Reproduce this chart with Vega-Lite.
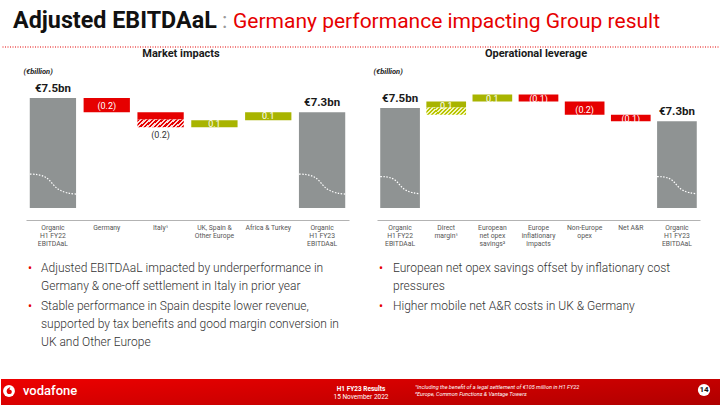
{
  "$schema": "https://vega.github.io/schema/vega-lite/v6.json",
  "padding": {"left": 0, "top": 9, "right": 0, "bottom": 0},
  "background": "white",
  "bounds": "flush",
  "columns": 2,
  "spacing": {"row": 15, "column": 0},
  "config": {
    "view": {"stroke": null},
    "font": "Roboto",
    "axisX": {"ticks": false, "domainColor": "#b3b3b3", "domainWidth": 1.2, "labelFontSize": 6.8, "labelColor": "#555", "labelLineHeight": 8, "labelPadding": 4, "labelAngle": 0, "labelBaseline": "top"},
    "axisY": {"labels": false, "ticks": false, "domain": false, "grid": false, "titleAngle": 0, "titleAlign": "left", "titleBaseline": "middle", "titleFontSize": 7.5, "titleFontStyle": "italic", "titleFontWeight": "bold", "titleColor": "#222", "titlePadding": 0}
  },
  "concat": [
    {
      "width": 360,
      "height": 20,
      "data": {"values": [
        {"id": "a", "text": "Adjusted EBITDAaL"},
        {"id": "b", "text": ":"},
        {"id": "c", "text": "Germany performance impacting Group result"}
      ]},
      "layer": [
        {"transform": [{"filter": "datum.id === 'a'"}], "mark": {"type": "rule", "color": "#e60000", "strokeDash": [1, 1.5], "strokeWidth": 1}, "encoding": {"y": {"datum": 0, "type": "quantitative", "scale": {"domain": [0, 1]}, "axis": null}}},
        {"transform": [{"filter": "datum.id === 'a'"}], "mark": {"type": "text", "align": "left", "baseline": "alphabetic", "dx": -168, "dy": -9, "fontSize": 23.3, "fontWeight": "bold", "color": "#111"}, "encoding": {"text": {"field": "text"}}},
        {"transform": [{"filter": "datum.id === 'b'"}], "mark": {"type": "text", "align": "left", "baseline": "alphabetic", "dx": 41, "dy": -9, "fontSize": 22, "color": "#9a9a9a"}, "encoding": {"text": {"field": "text"}}},
        {"transform": [{"filter": "datum.id === 'c'"}], "mark": {"type": "text", "align": "left", "baseline": "alphabetic", "dx": 52, "dy": -9, "fontSize": 21, "color": "#e60000"}, "encoding": {"text": {"field": "text"}}}
      ]
    },
    {
      "width": 360,
      "height": 20,
      "data": {"values": [{"id": "line"}]},
      "mark": {"type": "rule", "color": "#e60000", "strokeDash": [1, 1.5], "strokeWidth": 1},
      "encoding": {"y": {"datum": 0, "type": "quantitative", "scale": {"domain": [0, 1]}, "axis": null}}
    },
    {
      "width": 360,
      "height": 158,
      "title": {"text": "Market impacts", "frame": "group", "anchor": "middle", "orient": "top", "offset": 3, "fontSize": 11, "fontWeight": "bold", "color": "#1a1a1a"},
      "data": {"values": [
        {"cat": "Organic\nH1 FY22\nEBITDAaL", "kind": "total", "hi": 7.5, "label": "€7.5bn"},
        {"cat": "Germany", "kind": "neg", "lo": 7.3, "hi": 7.5, "label": "(0.2)"},
        {"cat": "Italy¹", "kind": "neg", "lo": 7.2, "hi": 7.3, "label": ""},
        {"cat": "Italy¹", "kind": "hatchneg", "lo": 7.09, "hi": 7.2, "label": "(0.2)"},
        {"cat": "UK, Spain &\nOther Europe", "kind": "pos", "lo": 7.09, "hi": 7.19, "label": "0.1"},
        {"cat": "Africa & Turkey", "kind": "pos", "lo": 7.19, "hi": 7.3, "label": "0.1"},
        {"cat": "Organic\nH1 FY23\nEBITDAaL", "kind": "total", "hi": 7.3, "label": "€7.3bn"}
      ]},
      "encoding": {
        "x": {"field": "cat", "type": "nominal", "title": null,
          "scale": {"domain": ["Organic\nH1 FY22\nEBITDAaL", "Germany", "Italy¹", "UK, Spain &\nOther Europe", "Africa & Turkey", "Organic\nH1 FY23\nEBITDAaL"], "range": [25, 348], "paddingInner": 0.14, "paddingOuter": 0.07},
          "axis": {"labelExpr": "split(datum.label, '\\n')"}}
      },
      "layer": [
        {"transform": [{"filter": "datum.kind === 'total'"}], "mark": {"type": "bar", "color": "#8f9393"},
          "encoding": {"y": {"field": "hi", "type": "quantitative", "title": "(€billion)", "scale": {"domain": [5.966, 7.941]}, "axis": {"titleX": 22, "titleY": 9}}, "y2": {"datum": 5.966}}},
        {"transform": [{"filter": "datum.kind === 'neg' || datum.kind === 'pos'"}], "mark": {"type": "bar"},
          "encoding": {"y": {"field": "hi", "type": "quantitative", "title": "(€billion)"}, "y2": {"field": "lo"},
            "color": {"field": "kind", "type": "nominal", "scale": {"domain": ["neg", "pos"], "range": ["#e60000", "#a8b400"]}, "legend": null}}},
        {"transform": [{"filter": "datum.kind === 'hatchneg'"}],
          "mark": {"type": "bar", "color": {"gradient": "linear", "x1": 0, "y1": 0, "x2": 1.2, "y2": 0.23, "stops": [
            {"offset": 0, "color": "#e60000"}, {"offset": 0.042, "color": "#e60000"}, {"offset": 0.042, "color": "#fcd9d9"}, {"offset": 0.083, "color": "#fcd9d9"},
            {"offset": 0.083, "color": "#e60000"}, {"offset": 0.125, "color": "#e60000"}, {"offset": 0.125, "color": "#fcd9d9"}, {"offset": 0.167, "color": "#fcd9d9"},
            {"offset": 0.167, "color": "#e60000"}, {"offset": 0.208, "color": "#e60000"}, {"offset": 0.208, "color": "#fcd9d9"}, {"offset": 0.25, "color": "#fcd9d9"},
            {"offset": 0.25, "color": "#e60000"}, {"offset": 0.292, "color": "#e60000"}, {"offset": 0.292, "color": "#fcd9d9"}, {"offset": 0.333, "color": "#fcd9d9"},
            {"offset": 0.333, "color": "#e60000"}, {"offset": 0.375, "color": "#e60000"}, {"offset": 0.375, "color": "#fcd9d9"}, {"offset": 0.417, "color": "#fcd9d9"},
            {"offset": 0.417, "color": "#e60000"}, {"offset": 0.458, "color": "#e60000"}, {"offset": 0.458, "color": "#fcd9d9"}, {"offset": 0.5, "color": "#fcd9d9"},
            {"offset": 0.5, "color": "#e60000"}, {"offset": 0.542, "color": "#e60000"}, {"offset": 0.542, "color": "#fcd9d9"}, {"offset": 0.583, "color": "#fcd9d9"},
            {"offset": 0.583, "color": "#e60000"}, {"offset": 0.625, "color": "#e60000"}, {"offset": 0.625, "color": "#fcd9d9"}, {"offset": 0.667, "color": "#fcd9d9"},
            {"offset": 0.667, "color": "#e60000"}, {"offset": 0.708, "color": "#e60000"}, {"offset": 0.708, "color": "#fcd9d9"}, {"offset": 0.75, "color": "#fcd9d9"},
            {"offset": 0.75, "color": "#e60000"}, {"offset": 0.792, "color": "#e60000"}, {"offset": 0.792, "color": "#fcd9d9"}, {"offset": 0.833, "color": "#fcd9d9"},
            {"offset": 0.833, "color": "#e60000"}, {"offset": 0.875, "color": "#e60000"}, {"offset": 0.875, "color": "#fcd9d9"}, {"offset": 0.917, "color": "#fcd9d9"},
            {"offset": 0.917, "color": "#e60000"}, {"offset": 0.958, "color": "#e60000"}, {"offset": 0.958, "color": "#fcd9d9"}, {"offset": 1, "color": "#fcd9d9"}
          ]}},
          "encoding": {"y": {"field": "hi", "type": "quantitative", "title": "(€billion)"}, "y2": {"field": "lo"}}},
        {"transform": [{"filter": "datum.kind === 'total'"}],
          "mark": {"type": "point", "shape": "M-1,-0.43 C-0.45,-0.43 -0.25,-0.3 -0.05,-0.05 C0.15,0.2 0.4,0.4 1,0.43", "filled": false, "stroke": "white", "strokeWidth": 1.2, "strokeDash": [1.5, 1.5], "size": 2140, "opacity": 1},
          "encoding": {"y": {"datum": 6.3, "type": "quantitative"}}},
        {"transform": [{"filter": "(datum.kind === 'neg' || datum.kind === 'pos') && datum.label === '(0.2)'"}],
          "mark": {"type": "text", "color": "white", "fontSize": 9, "baseline": "middle", "dy": 8},
          "encoding": {"y": {"field": "hi", "type": "quantitative", "title": "(€billion)"}, "text": {"field": "label"}}},
        {"transform": [{"filter": "(datum.kind === 'neg' || datum.kind === 'pos') && datum.label !== '' && datum.label !== '(0.2)'"}],
          "mark": {"type": "text", "color": "white", "fontSize": 9, "baseline": "middle", "dy": 4},
          "encoding": {"y": {"field": "hi", "type": "quantitative", "title": "(€billion)"}, "text": {"field": "label"}}},
        {"transform": [{"filter": "(datum.kind === 'hatchneg' || datum.kind === 'hatchpos') && datum.label !== ''"}],
          "mark": {"type": "text", "color": "#333", "fontSize": 9, "baseline": "middle", "dy": 8},
          "encoding": {"y": {"field": "lo", "type": "quantitative", "title": "(€billion)"}, "text": {"field": "label"}}},
        {"transform": [{"filter": "datum.kind === 'total'"}],
          "mark": {"type": "text", "color": "#1a1a1a", "fontSize": 11.5, "fontWeight": "bold", "baseline": "alphabetic", "dy": -6},
          "encoding": {"y": {"field": "hi", "type": "quantitative", "title": "(€billion)"}, "text": {"field": "label"}}}
      ]
    },
    {
      "width": 360,
      "height": 158,
      "title": {"text": "Operational leverage", "frame": "group", "anchor": "middle", "orient": "top", "offset": 3, "dx": -5, "fontSize": 11, "fontWeight": "bold", "color": "#1a1a1a"},
      "data": {"values": [
        {"cat": "Organic\nH1 FY22\nEBITDAaL", "kind": "total", "hi": 7.5, "label": "€7.5bn"},
        {"cat": "Direct\nmargin¹", "kind": "pos", "lo": 7.51, "hi": 7.6, "label": "0.1"},
        {"cat": "Direct\nmargin¹", "kind": "hatchpos", "lo": 7.4, "hi": 7.51, "label": ""},
        {"cat": "European\nnet opex\nsavings²", "kind": "pos", "lo": 7.6, "hi": 7.705, "label": "0.1"},
        {"cat": "Europe\ninflationary\nimpacts", "kind": "neg", "lo": 7.6, "hi": 7.705, "label": "(0.1)"},
        {"cat": "Non-Europe\nopex", "kind": "neg", "lo": 7.4, "hi": 7.6, "label": "(0.2)"},
        {"cat": "Net A&R", "kind": "neg", "lo": 7.3, "hi": 7.4, "label": "(0.1)"},
        {"cat": "Organic\nH1 FY23\nEBITDAaL", "kind": "total", "hi": 7.3, "label": "€7.3bn"}
      ]},
      "encoding": {
        "x": {"field": "cat", "type": "nominal", "title": null,
          "scale": {"domain": ["Organic\nH1 FY22\nEBITDAaL", "Direct\nmargin¹", "European\nnet opex\nsavings²", "Europe\ninflationary\nimpacts", "Non-Europe\nopex", "Net A&R", "Organic\nH1 FY23\nEBITDAaL"], "range": [16, 339], "paddingInner": 0.14, "paddingOuter": 0.07},
          "axis": {"labelExpr": "split(datum.label, '\\n')"}}
      },
      "layer": [
        {"transform": [{"filter": "datum.kind === 'total'"}], "mark": {"type": "bar", "color": "#8f9393"},
          "encoding": {"y": {"field": "hi", "type": "quantitative", "title": "(€billion)", "scale": {"domain": [5.984, 8.049]}, "axis": {"titleX": 12, "titleY": 9}}, "y2": {"datum": 5.984}}},
        {"transform": [{"filter": "datum.kind === 'neg' || datum.kind === 'pos'"}], "mark": {"type": "bar"},
          "encoding": {"y": {"field": "hi", "type": "quantitative", "title": "(€billion)"}, "y2": {"field": "lo"},
            "color": {"field": "kind", "type": "nominal", "scale": {"domain": ["neg", "pos"], "range": ["#e60000", "#a8b400"]}, "legend": null}}},
        {"transform": [{"filter": "datum.kind === 'hatchpos'"}],
          "mark": {"type": "bar", "color": {"gradient": "linear", "x1": 0, "y1": 0, "x2": 1.2, "y2": 0.23, "stops": [
            {"offset": 0, "color": "#b9c400"}, {"offset": 0.042, "color": "#b9c400"}, {"offset": 0.042, "color": "#f2f6c0"}, {"offset": 0.083, "color": "#f2f6c0"},
            {"offset": 0.083, "color": "#b9c400"}, {"offset": 0.125, "color": "#b9c400"}, {"offset": 0.125, "color": "#f2f6c0"}, {"offset": 0.167, "color": "#f2f6c0"},
            {"offset": 0.167, "color": "#b9c400"}, {"offset": 0.208, "color": "#b9c400"}, {"offset": 0.208, "color": "#f2f6c0"}, {"offset": 0.25, "color": "#f2f6c0"},
            {"offset": 0.25, "color": "#b9c400"}, {"offset": 0.292, "color": "#b9c400"}, {"offset": 0.292, "color": "#f2f6c0"}, {"offset": 0.333, "color": "#f2f6c0"},
            {"offset": 0.333, "color": "#b9c400"}, {"offset": 0.375, "color": "#b9c400"}, {"offset": 0.375, "color": "#f2f6c0"}, {"offset": 0.417, "color": "#f2f6c0"},
            {"offset": 0.417, "color": "#b9c400"}, {"offset": 0.458, "color": "#b9c400"}, {"offset": 0.458, "color": "#f2f6c0"}, {"offset": 0.5, "color": "#f2f6c0"},
            {"offset": 0.5, "color": "#b9c400"}, {"offset": 0.542, "color": "#b9c400"}, {"offset": 0.542, "color": "#f2f6c0"}, {"offset": 0.583, "color": "#f2f6c0"},
            {"offset": 0.583, "color": "#b9c400"}, {"offset": 0.625, "color": "#b9c400"}, {"offset": 0.625, "color": "#f2f6c0"}, {"offset": 0.667, "color": "#f2f6c0"},
            {"offset": 0.667, "color": "#b9c400"}, {"offset": 0.708, "color": "#b9c400"}, {"offset": 0.708, "color": "#f2f6c0"}, {"offset": 0.75, "color": "#f2f6c0"},
            {"offset": 0.75, "color": "#b9c400"}, {"offset": 0.792, "color": "#b9c400"}, {"offset": 0.792, "color": "#f2f6c0"}, {"offset": 0.833, "color": "#f2f6c0"},
            {"offset": 0.833, "color": "#b9c400"}, {"offset": 0.875, "color": "#b9c400"}, {"offset": 0.875, "color": "#f2f6c0"}, {"offset": 0.917, "color": "#f2f6c0"},
            {"offset": 0.917, "color": "#b9c400"}, {"offset": 0.958, "color": "#b9c400"}, {"offset": 0.958, "color": "#f2f6c0"}, {"offset": 1, "color": "#f2f6c0"}
          ]}},
          "encoding": {"y": {"field": "hi", "type": "quantitative", "title": "(€billion)"}, "y2": {"field": "lo"}}},
        {"transform": [{"filter": "datum.kind === 'total'"}],
          "mark": {"type": "point", "shape": "M-1,-0.43 C-0.45,-0.43 -0.25,-0.3 -0.05,-0.05 C0.15,0.2 0.4,0.4 1,0.43", "filled": false, "stroke": "white", "strokeWidth": 1.2, "strokeDash": [1.5, 1.5], "size": 1580, "opacity": 1},
          "encoding": {"y": {"datum": 6.33, "type": "quantitative"}}},
        {"transform": [{"filter": "(datum.kind === 'neg' || datum.kind === 'pos') && datum.label === '(0.2)'"}],
          "mark": {"type": "text", "color": "white", "fontSize": 9, "baseline": "middle", "dy": 8},
          "encoding": {"y": {"field": "hi", "type": "quantitative", "title": "(€billion)"}, "text": {"field": "label"}}},
        {"transform": [{"filter": "(datum.kind === 'neg' || datum.kind === 'pos') && datum.label !== '' && datum.label !== '(0.2)'"}],
          "mark": {"type": "text", "color": "white", "fontSize": 9, "baseline": "middle", "dy": 4},
          "encoding": {"y": {"field": "hi", "type": "quantitative", "title": "(€billion)"}, "text": {"field": "label"}}},
        {"transform": [{"filter": "(datum.kind === 'hatchneg' || datum.kind === 'hatchpos') && datum.label !== ''"}],
          "mark": {"type": "text", "color": "#333", "fontSize": 9, "baseline": "middle", "dy": 8},
          "encoding": {"y": {"field": "lo", "type": "quantitative", "title": "(€billion)"}, "text": {"field": "label"}}},
        {"transform": [{"filter": "datum.kind === 'total'"}],
          "mark": {"type": "text", "color": "#1a1a1a", "fontSize": 11.5, "fontWeight": "bold", "baseline": "alphabetic", "dy": -6},
          "encoding": {"y": {"field": "hi", "type": "quantitative", "title": "(€billion)"}, "text": {"field": "label"}}}
      ]
    },
    {
      "width": 360,
      "height": 129,
      "data": {"values": [
        {"n": 1, "text": "Adjusted EBITDAaL impacted by underperformance in\nGermany & one-off settlement in Italy in prior year"},
        {"n": 2, "text": "Stable performance in Spain despite lower revenue,\nsupported by tax benefits and good margin conversion in\nUK and Other Europe"}
      ]},
      "encoding": {
        "y": {"field": "n", "type": "ordinal", "scale": {"type": "point", "domain": [1, 2], "range": [28, 66], "padding": 0}, "axis": null}
      },
      "layer": [
        {"mark": {"type": "text", "align": "left", "baseline": "top", "fontSize": 12, "fontWeight": 300, "color": "#333", "lineBreak": "\n", "lineHeight": 18, "dx": -140}, "encoding": {"text": {"field": "text"}}},
        {"mark": {"type": "text", "align": "left", "baseline": "top", "fontSize": 12, "color": "#e60000", "dx": -153, "text": "•"}}
      ]
    },
    {
      "width": 360,
      "height": 129,
      "data": {"values": [
        {"n": 1, "text": "European net opex savings offset by inflationary cost\npressures"},
        {"n": 2, "text": "Higher mobile net A&R costs in UK & Germany"}
      ]},
      "encoding": {
        "y": {"field": "n", "type": "ordinal", "scale": {"type": "point", "domain": [1, 2], "range": [28, 66], "padding": 0}, "axis": null}
      },
      "layer": [
        {"mark": {"type": "text", "align": "left", "baseline": "top", "fontSize": 12, "fontWeight": 300, "color": "#333", "lineBreak": "\n", "lineHeight": 18, "dx": -148}, "encoding": {"text": {"field": "text"}}},
        {"mark": {"type": "text", "align": "left", "baseline": "top", "fontSize": 12, "color": "#e60000", "dx": -162, "text": "•"}}
      ]
    },
    {
      "width": 360,
      "height": 26,
      "data": {"values": [
        {"id": "brand", "text": "vodafone"}
      ]},
      "layer": [
        {"mark": {"type": "rect", "color": {"gradient": "linear", "x1": 0, "y1": 0, "x2": 1, "y2": 1, "stops": [{"offset": 0, "color": "#ee0000"}, {"offset": 1, "color": "#c40000"}]}}, "encoding": {}},
        {"mark": {"type": "point", "shape": "circle", "filled": true, "color": "white", "opacity": 1, "size": 140, "xOffset": -172, "yOffset": -1}, "encoding": {}},
        {"mark": {"type": "point", "shape": "M0.2,-0.8 C-0.5,-0.65 -0.75,-0.05 -0.5,0.4 C-0.3,0.75 0.3,0.75 0.45,0.35 C0.6,-0.05 0.3,-0.3 0.02,-0.25 C0.0,-0.5 0.1,-0.7 0.2,-0.8 Z", "filled": true, "color": "#e60000", "opacity": 1, "size": 90, "xOffset": -171.5, "yOffset": -1}, "encoding": {}},
        {"mark": {"type": "text", "fontSize": 13, "fontWeight": 500, "color": "white", "align": "left", "baseline": "middle", "dx": -158, "dy": -1}, "encoding": {"text": {"field": "text"}}}
      ]
    },
    {
      "width": 360,
      "height": 26,
      "data": {"values": [
        {"id": "event", "text": "H1 FY23 Results"},
        {"id": "date", "text": "15 November 2022"},
        {"id": "note1", "text": "¹Including the benefit of a legal settlement of €105 million in H1 FY22"},
        {"id": "note2", "text": "²Europe, Common Functions & Vantage Towers"},
        {"id": "page", "text": "14"}
      ]},
      "layer": [
        {"transform": [{"filter": "datum.id === 'event'"}], "mark": {"type": "rect", "color": {"gradient": "linear", "x1": 0, "y1": 0, "x2": 1, "y2": 1, "stops": [{"offset": 0, "color": "#d90000"}, {"offset": 1, "color": "#af0000"}]}}, "encoding": {}},
        {"transform": [{"filter": "datum.id === 'event'"}], "mark": {"type": "text", "fontSize": 6.5, "fontWeight": "bold", "color": "white", "align": "center", "baseline": "middle", "dx": -180, "dy": -3}, "encoding": {"text": {"field": "text"}}},
        {"transform": [{"filter": "datum.id === 'date'"}], "mark": {"type": "text", "fontSize": 6.5, "color": "white", "align": "center", "baseline": "middle", "dx": -180, "dy": 5}, "encoding": {"text": {"field": "text"}}},
        {"transform": [{"filter": "datum.id === 'note1'"}], "mark": {"type": "text", "fontSize": 5.5, "fontStyle": "italic", "color": "white", "align": "left", "baseline": "middle", "dx": -126, "dy": -5}, "encoding": {"text": {"field": "text"}}},
        {"transform": [{"filter": "datum.id === 'note2'"}], "mark": {"type": "text", "fontSize": 5.5, "fontStyle": "italic", "color": "white", "align": "left", "baseline": "middle", "dx": -126, "dy": 2}, "encoding": {"text": {"field": "text"}}},
        {"transform": [{"filter": "datum.id === 'page'"}], "mark": {"type": "point", "shape": "circle", "filled": true, "color": "white", "opacity": 1, "size": 150, "xOffset": 163, "yOffset": -2}, "encoding": {}},
        {"transform": [{"filter": "datum.id === 'page'"}], "mark": {"type": "text", "fontSize": 8, "fontWeight": "bold", "color": "#111", "align": "center", "baseline": "middle", "dx": 163, "dy": -2}, "encoding": {"text": {"field": "text"}}}
      ]
    }
  ]
}
